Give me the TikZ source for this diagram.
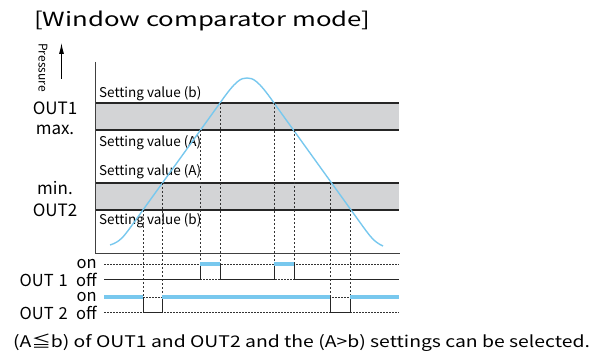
\documentclass[tikz,border=0pt]{standalone}
\usepackage{fontspec}
\setmainfont{Noto Sans CJK JP}
\newfontfamily\titlefont[FakeStretch=1.32]{Noto Sans CJK JP}
\newfontfamily\notefont[FakeStretch=1.21]{Noto Sans CJK JP}
\usetikzlibrary{arrows.meta,positioning}
\definecolor{wcblue}{RGB}{120,200,238}
\definecolor{wcgray}{RGB}{211,212,214}
\tikzset{
  bandline/.style={draw=black!85,line width=1.1pt},
  axisline/.style={draw=black!75,line width=1pt},
  curveline/.style={wcblue,line width=1.4pt},
  dropline/.style={black!80,line width=0.7pt,dash pattern=on 2pt off 2pt},
  refline/.style={black!80,line width=0.6pt,dash pattern=on 1.5pt off 1.5pt},
  sigon/.style={wcblue,line width=4pt},
  sigoff/.style={black!85,line width=1pt},
  titlelab/.style={font=\titlefont\fontsize{19.5}{19.5}\selectfont,inner sep=0pt},
  presslab/.style={font=\fontsize{12}{12}\selectfont,inner sep=0pt},
  setlab/.style={font=\fontsize{13.5}{13.5}\selectfont,anchor=west,inner sep=0pt},
  levlab/.style={font=\fontsize{17}{17}\selectfont,inner sep=0pt},
  sigtag/.style={font=\fontsize{16.5}{16.5}\selectfont,inner sep=0pt},
  notelab/.style={font=\notefont\fontsize{16}{16}\selectfont,inner sep=0pt}
}
\begin{document}
\begin{tikzpicture}[x=1pt,y=-1pt]
  \useasboundingbox (0,0) rectangle (594,358);
  \node[titlelab,anchor=west] (title) at (34,21) {[Window comparator mode]};
  \node[presslab,rotate=-90] (press) at (43,67.5) {Pressure};
  \coordinate (uplo) at (61.5,79);
  \coordinate (uphi) at (61.5,43);
  \draw[-{Latex[length=11pt,width=5pt]},line width=1pt] (uplo) -- (uphi);
  % bands
  \fill[wcgray] (95,103) rectangle (399,130);
  \fill[wcgray] (95,183) rectangle (399,210);
  \foreach \yy in {103,130,183,210}
    \draw[bandline] (95,\yy) -- (399,\yy);
  \draw[axisline] (95,62) -- (95,253.5) -- (400,253.5);
  \node[levlab] (out1) at (55,108) {OUT1};
  \node[levlab] (max) at (55,130) {max.};
  \node[levlab] (min) at (55,188) {min.};
  \node[levlab] (out2) at (55,210) {OUT2};
  \node[setlab] (sb1) at (99,94) {Setting value (b)};
  \node[setlab] (sa1) at (99,143) {Setting value (A)};
  \node[setlab] (sa2) at (99,172) {Setting value (A)};
  \node[setlab] (sb2) at (99,221) {Setting value (b)};
  % pressure curve
  \draw[curveline] (110,245) .. controls (120,242) and (124,236) .. (130,228)
    -- (220,103) .. controls (236,80) and (241,78) .. (247,78)
    .. controls (253,78) and (258,80) .. (274,103)
    -- (364,228) .. controls (370,236) and (374,242) .. (383,246);
  \foreach \xx/\yy in {143/210,162/183,330/183,350/210}
    \draw[dropline] (\xx,\yy) -- (\xx,312);
  \foreach \xx/\yy in {200/130,220/103,274/103,294/130}
    \draw[dropline] (\xx,\yy) -- (\xx,279);
  % timing
  \foreach \yy in {264,279,297,312}
    \draw[refline] (104,\yy) -- (399,\yy);
  \draw[sigoff] (104,279) -- (200,279) -- (200,264);
  \draw[sigoff] (220,264) -- (220,279) -- (274,279) -- (274,264);
  \draw[sigoff] (294,264) -- (294,279) -- (399,279);
  \draw[sigon] (200,264) -- (220,264);
  \draw[sigon] (274,264) -- (294,264);
  \draw[sigoff] (143,297) -- (143,312) -- (162,312) -- (162,297);
  \draw[sigoff] (330,297) -- (330,312) -- (350,312) -- (350,297);
  \draw[sigon] (104,297) -- (143,297);
  \draw[sigon] (162,297) -- (330,297);
  \draw[sigon] (350,297) -- (399,297);
  \node[sigtag,anchor=east] (on1) at (97,264) {on};
  \node[sigtag,anchor=east] (off1) at (97,280) {off};
  \node[sigtag,anchor=east] (on2) at (97,297) {on};
  \node[sigtag,anchor=east] (off2) at (97,313) {off};
  \node[sigtag,anchor=east] (tag1) at (68,280) {OUT\hspace{0.3em}1};
  \node[sigtag,anchor=east] (tag2) at (68,313) {OUT\hspace{0.3em}2};
  \node[notelab,anchor=west] (note) at (13,343) {(A≦b) of OUT1 and OUT2 and the (A>b) settings can be selected.};
\end{tikzpicture}
\end{document}
